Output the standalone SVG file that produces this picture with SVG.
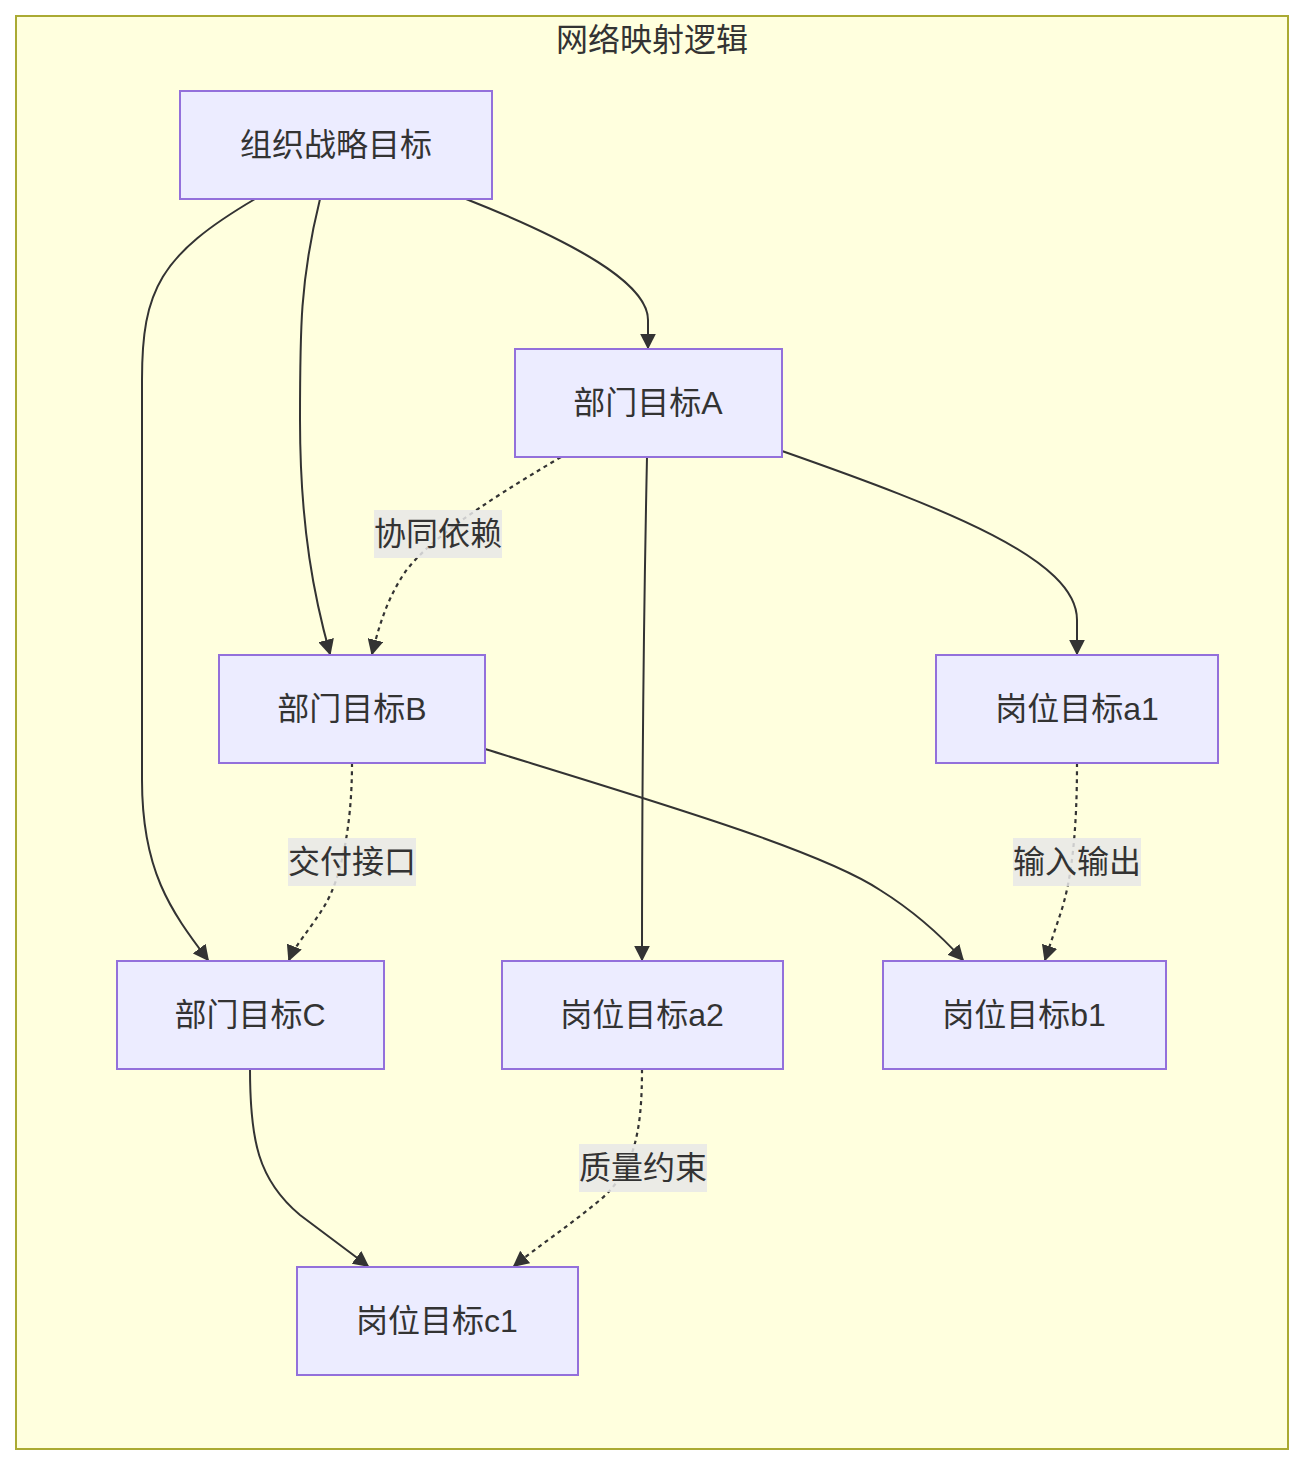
<svg xmlns="http://www.w3.org/2000/svg" width="1303" height="1466" viewBox="0 0 1303 1466">
<style>
text{font-family:"Liberation Sans","Noto Sans CJK SC",sans-serif;font-size:32px;fill:#333;text-anchor:middle;dominant-baseline:central}
.node rect{fill:#ececff;stroke:#9370db;stroke-width:2}
.edge{fill:none;stroke:#333;stroke-width:2;marker-end:url(#arrow)}
.dot{stroke-dasharray:4 4;stroke-width:2.2}
.lbl rect{fill:#e8e8e8;opacity:0.85}
</style>
<defs>
<marker id="arrow" viewBox="0 0 10 10" refX="9" refY="5" markerUnits="userSpaceOnUse" markerWidth="16" markerHeight="16" orient="auto">
<path d="M0,0 L10,5 L0,10 z" fill="#333"/>
</marker>
</defs>
<rect x="16" y="16" width="1272" height="1433" fill="#ffffde" stroke="#aaaa33" stroke-width="2"/>
<text x="652" y="40">网络映射逻辑</text>
<g id="connectors">
<path class="edge" d="M466,199 C600,252 648,290 648,320 L648,348"/>
<path class="edge" d="M320,199 C300,280 300,330 300,420 C300,530 315,600 330,654"/>
<path class="edge" d="M255,199 C160,255 142,290 142,380 L142,780 C142,870 170,910 208,960"/>
<path class="edge dot" d="M561,457 C480,505 420,545 400,580 C385,605 378,630 372,654"/>
<path class="edge" d="M647,457 C644,600 642,750 642,960"/>
<path class="edge" d="M782,451 C950,510 1077,560 1077,620 L1077,654"/>
<path class="edge dot" d="M352,763 C352,830 340,880 325,905 C310,930 295,945 289,960"/>
<path class="edge" d="M485,749 C650,800 820,850 880,890 C920,915 945,940 963,960"/>
<path class="edge dot" d="M1077,763 C1077,830 1072,880 1060,915 L1045,960"/>
<path class="edge" d="M250,1069 C250,1140 258,1180 300,1215 L368,1266"/>
<path class="edge dot" d="M642,1069 C642,1130 635,1170 600,1200 C570,1225 540,1245 514,1266"/>
</g>
<g class="lbl" id="label-1"><rect x="374" y="510" width="128" height="48"/><text x="438" y="534">协同依赖</text></g>
<g class="lbl" id="label-2"><rect x="288" y="838" width="128" height="48"/><text x="352" y="862">交付接口</text></g>
<g class="lbl" id="label-3"><rect x="1013" y="838" width="128" height="48"/><text x="1077" y="862">输入输出</text></g>
<g class="lbl" id="label-4"><rect x="579" y="1144" width="128" height="48"/><text x="643" y="1168">质量约束</text></g>
<g class="node" id="org"><rect x="180" y="91" width="312" height="108"/><text x="336" y="145">组织战略目标</text></g>
<g class="node" id="deptA"><rect x="515" y="349" width="267" height="108"/><text x="648" y="403">部门目标A</text></g>
<g class="node" id="deptB"><rect x="219" y="655" width="266" height="108"/><text x="352" y="709">部门目标B</text></g>
<g class="node" id="posA1"><rect x="936" y="655" width="282" height="108"/><text x="1077" y="709">岗位目标a1</text></g>
<g class="node" id="deptC"><rect x="117" y="961" width="267" height="108"/><text x="250" y="1015">部门目标C</text></g>
<g class="node" id="posA2"><rect x="502" y="961" width="281" height="108"/><text x="642" y="1015">岗位目标a2</text></g>
<g class="node" id="posB1"><rect x="883" y="961" width="283" height="108"/><text x="1024" y="1015">岗位目标b1</text></g>
<g class="node" id="posC1"><rect x="297" y="1267" width="281" height="108"/><text x="437" y="1321">岗位目标c1</text></g>
</svg>
